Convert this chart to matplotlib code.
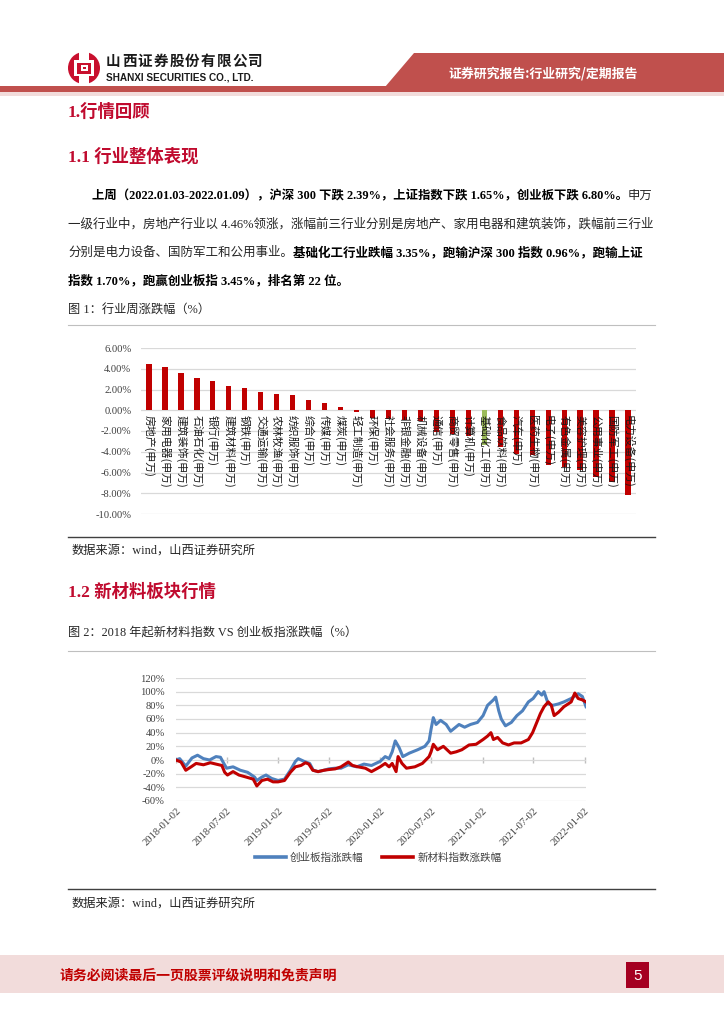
import matplotlib
matplotlib.use('Agg')
import matplotlib.pyplot as plt
import matplotlib.patches as mpatches
import matplotlib.transforms as mtransforms
from matplotlib.ticker import FuncFormatter
from matplotlib.lines import Line2D
import pandas as pd

plt.rcParams['font.family'] = ['Liberation Serif', 'Noto Sans CJK SC', 'DejaVu Sans']

# ---------------- data: figure 1 ----------------
industries = ['房地产', '家用电器', '建筑装饰', '石油石化', '银行', '建筑材料', '钢铁', '交通运输',
              '农林牧渔', '纺织服饰', '综合', '传媒', '煤炭', '轻工制造', '环保', '社会服务',
              '非银金融', '机械设备', '通信', '商贸零售', '计算机', '基础化工', '食品饮料', '汽车',
              '医药生物', '电子', '有色金属', '美容护理', '公用事业', '国防军工', '电力设备']
weekly_change = [4.46, 4.15, 3.55, 3.10, 2.85, 2.30, 2.10, 1.80,
                 1.55, 1.50, 0.95, 0.70, 0.30, -0.15, -0.70, -0.80,
                 -0.90, -1.00, -2.10, -2.30, -2.50, -3.35, -3.50, -4.20,
                 -4.30, -5.30, -5.50, -5.80, -6.40, -6.90, -8.20]
highlight = '基础化工'
bar_yticks = [6, 4, 2, 0, -2, -4, -6, -8, -10]

# ---------------- data: figure 2 ----------------
gem_dates = ['2018-01-02', '2018-01-15', '2018-02-06', '2018-02-28', '2018-03-20', '2018-04-10',
             '2018-05-02', '2018-05-25', '2018-06-10', '2018-06-22', '2018-07-02', '2018-07-25',
             '2018-08-20', '2018-09-15', '2018-10-10', '2018-10-18', '2018-11-05', '2018-11-20',
             '2018-12-10', '2019-01-02', '2019-01-25', '2019-02-15', '2019-03-05', '2019-03-15',
             '2019-04-05', '2019-04-25', '2019-05-08', '2019-05-25', '2019-06-15', '2019-07-02',
             '2019-07-25', '2019-08-15', '2019-09-10', '2019-10-10', '2019-11-05', '2019-12-02',
             '2020-01-02', '2020-01-20', '2020-02-03', '2020-02-14', '2020-02-25', '2020-03-10',
             '2020-03-23', '2020-04-15', '2020-05-15', '2020-06-10', '2020-06-25', '2020-07-02',
             '2020-07-10', '2020-07-20', '2020-08-05', '2020-08-25', '2020-09-10', '2020-10-10',
             '2020-10-30', '2020-11-20', '2020-12-15', '2021-01-04', '2021-01-20', '2021-02-10',
             '2021-02-18', '2021-03-01', '2021-03-10', '2021-03-25', '2021-04-15', '2021-05-05',
             '2021-05-25', '2021-06-15', '2021-07-02', '2021-07-20', '2021-08-02', '2021-08-10',
             '2021-08-25', '2021-09-10', '2021-09-30', '2021-10-20', '2021-11-15', '2021-12-10',
             '2021-12-25', '2022-01-07']
gem_values = [0, 2, -9, 3, 7, 2,
              0, 5, 4, -5, -12, -10,
              -15, -18, -25, -30, -25, -22,
              -27, -30, -28, -15, -2, 2,
              -2, -5, -15, -17, -15, -13,
              -12, -12, -7, -10, -6, -8,
              -2, 5, 2, 12, 28, 18,
              5, 10, 15, 20, 28, 45,
              62, 52, 58, 52, 42, 52,
              48, 52, 55, 65, 80, 88,
              92, 72, 60, 50, 55, 65,
              72, 85, 90, 100, 95, 100,
              82, 80, 82, 85, 90, 97,
              93, 78]

nm_dates = ['2018-01-02', '2018-01-20', '2018-02-06', '2018-02-25', '2018-03-15', '2018-04-10',
            '2018-05-05', '2018-05-25', '2018-06-15', '2018-06-25', '2018-07-05', '2018-07-25',
            '2018-08-15', '2018-09-10', '2018-10-05', '2018-10-18', '2018-11-05', '2018-11-25',
            '2018-12-15', '2019-01-02', '2019-01-25', '2019-02-15', '2019-03-05', '2019-03-25',
            '2019-04-10', '2019-04-22', '2019-05-06', '2019-05-25', '2019-06-15', '2019-07-02',
            '2019-07-25', '2019-08-15', '2019-09-10', '2019-09-25', '2019-10-15', '2019-11-10',
            '2019-12-02', '2020-01-02', '2020-01-20', '2020-02-03', '2020-02-14', '2020-02-28',
            '2020-03-06', '2020-03-20', '2020-04-05', '2020-05-05', '2020-06-01', '2020-06-25',
            '2020-07-02', '2020-07-10', '2020-07-25', '2020-08-15', '2020-09-10', '2020-09-30',
            '2020-10-20', '2020-11-15', '2020-12-10', '2021-01-04', '2021-01-20', '2021-02-01',
            '2021-02-10', '2021-02-25', '2021-03-15', '2021-04-05', '2021-04-25', '2021-05-20',
            '2021-06-15', '2021-06-30', '2021-07-15', '2021-07-28', '2021-08-10', '2021-08-25',
            '2021-09-05', '2021-09-15', '2021-10-01', '2021-10-20', '2021-11-15', '2021-11-28',
            '2021-12-10', '2021-12-25', '2022-01-07']
nm_values = [0, -3, -15, -10, -5, -7,
             -4, -6, -8, -18, -22, -17,
             -22, -25, -28, -38, -30, -28,
             -32, -32, -30, -18, -10, -8,
             -4, -6, -15, -17, -15, -14,
             -13, -10, -3, -8, -10, -12,
             -17, -10, -5, -10, -5, -17,
             5, -5, -12, -10, -5, 5,
             12, 23, 15, 20, 10, 12,
             15, 22, 23, 30, 35, 40,
             30, 33, 25, 22, 25, 25,
             30, 40, 55, 68, 78, 85,
             80, 65, 70, 78, 85, 98,
             90, 88, 85]
line_ticks = ['2018-01-02', '2018-07-02', '2019-01-02', '2019-07-02', '2020-01-02',
              '2020-07-02', '2021-01-02', '2021-07-02', '2022-01-02']
line_yticks = [120, 100, 80, 60, 40, 20, 0, -20, -40, -60]
series_names = ['创业板指涨跌幅', '新材料指数涨跌幅']

# ---------------- page ----------------
W, H = 724, 1024
fig = plt.figure(figsize=(7.24, 10.24), dpi=100)
bg = fig.add_axes([0, 0, 1, 1])
bg.set_xlim(0, W)
bg.set_ylim(H, 0)
bg.axis('off')

RED = '#C0504D'
TITLE_RED = '#C00A2E'
CJK = ['Noto Sans CJK SC', 'DejaVu Sans']
MIX = ['Liberation Serif', 'Noto Sans CJK SC', 'DejaVu Sans']


def box(x0, y0, x1, y1, color, **kw):
    bg.add_patch(mpatches.Rectangle((x0, y0), x1 - x0, y1 - y0, color=color, lw=0, **kw))


# header
bg.add_patch(mpatches.Polygon([(385, 87), (414, 53), (724, 53), (724, 87)], closed=True,
                              color=RED, lw=0))
box(0, 86, 724, 92, RED)
box(0, 92, 724, 96, '#F2DCDB')
# logo
bg.add_patch(mpatches.Circle((84, 68), 16, color='#C8102E', lw=0))
box(79, 52, 89, 84, 'white')
box(74, 60, 94, 76, 'white')
box(77, 62.5, 91, 73.5, '#C8102E')
box(80.5, 65, 87.5, 71, 'white')
box(82.5, 66.8, 85.5, 69.2, '#C8102E')
for i, ch in enumerate('山西证券股份有限公司'):
    bg.text(106 + i * 15.8, 61, ch, fontsize=10.5, fontweight='bold', family=CJK,
            color='#1a1a1a', ha='left', va='center')
bg.text(106, 77.5, 'SHANXI SECURITIES CO., LTD.', fontsize=7.2, fontweight='bold',
        family=['Liberation Sans'], color='#1a1a1a', ha='left', va='center')
bg.text(449, 73, '证券研究报告:行业研究/定期报告', fontsize=9.3, fontweight='bold',
        family=CJK, color='white', ha='left', va='center')

# titles
bg.text(68, 112, '1.行情回顾', fontsize=12.5, fontweight='bold', family=MIX,
        color=TITLE_RED, ha='left', va='center')
bg.text(68, 157, '1.1 行业整体表现', fontsize=12.5, fontweight='bold', family=MIX,
        color=TITLE_RED, ha='left', va='center')
bg.text(68, 592, '1.2 新材料板块行情', fontsize=12.5, fontweight='bold', family=MIX,
        color=TITLE_RED, ha='left', va='center')

renderer = fig.canvas.get_renderer()


def runs(x, y, parts, size=9.0):
    for txt, bold in parts:
        t = bg.text(x, y, txt, fontsize=size, fontweight='bold' if bold else 'normal',
                    family=MIX, color='#000000' if bold else '#262626',
                    ha='left', va='center')
        x += t.get_window_extent(renderer=renderer).width


runs(92, 196, [('上周（2022.01.03-2022.01.09），沪深 300 下跌 2.39%，上证指数下跌 1.65%，创业板下跌 6.80%。', True),
               ('申万', False)], size=8.9)
runs(68, 224, [('一级行业中，房地产行业以 4.46%领涨，涨幅前三行业分别是房地产、家用电器和建筑装饰，跌幅前三行业', False)])
runs(68, 253, [('分别是电力设备、国防军工和公用事业。', False),
               ('基础化工行业跌幅 3.35%，跑输沪深 300 指数 0.96%，跑输上证', True)])
runs(68, 281, [('指数 1.70%，跑赢创业板指 3.45%，排名第 22 位。', True)])

bg.text(68, 311, '图 1：行业周涨跌幅（%）', fontsize=8.8, family=MIX, color='#262626',
        ha='left', va='center')
bg.plot([68, 655], [325, 325], color='#BFBFBF', lw=0.8)
bg.plot([68, 655], [537, 537], color='#404040', lw=1.0)
bg.text(72, 551, '数据来源：wind，山西证券研究所', fontsize=8.8, family=MIX, color='#262626',
        ha='left', va='center')
bg.text(68, 633, '图 2：2018 年起新材料指数 VS 创业板指涨跌幅（%）', fontsize=8.8, family=MIX,
        color='#262626', ha='left', va='center')
bg.plot([68, 655], [651, 651], color='#BFBFBF', lw=0.8)
bg.plot([68, 655], [889, 889], color='#404040', lw=1.0)
bg.text(72, 904, '数据来源：wind，山西证券研究所', fontsize=8.8, family=MIX, color='#262626',
        ha='left', va='center')

# footer
box(0, 955, 724, 993, '#F2DCDB')
bg.text(60, 975, '请务必阅读最后一页股票评级说明和免责声明', fontsize=10, fontweight='bold',
        family=CJK, color='#C00000', ha='left', va='center')
box(626, 962, 649, 988, '#A50021')
bg.text(637.5, 975.5, '5', fontsize=11, family=['Liberation Sans'], color='white',
        ha='center', va='center')


def px_axes(left, top, right, bottom):
    return fig.add_axes([left / W, 1 - bottom / H, (right - left) / W, (bottom - top) / H])


# ---------------- figure 1: bars ----------------
ax1 = px_axes(141, 348, 636, 514)
ax1.set_facecolor('none')
colors = ['#9BBB59' if n == highlight else '#C00000' for n in industries]
xs = list(range(len(industries)))
ax1.bar(xs, weekly_change, width=0.33, color=colors, zorder=2)
ax1.set_xlim(-0.5, len(industries) - 0.5)
ax1.set_ylim(-10, 6)
ax1.set_yticks(bar_yticks)
ax1.yaxis.set_major_formatter(FuncFormatter(lambda v, p: f'{v:.2f}%'))
ax1.set_xticks([])
ax1.grid(axis='y', color='#D9D9D9', lw=0.9, zorder=0)
for s in ax1.spines.values():
    s.set_visible(False)
ax1.tick_params(axis='y', length=0, pad=7, labelsize=7.6, labelcolor='#404040')
for lab in ax1.get_yticklabels():
    lab.set_family(['Liberation Serif'])
lab_tr = mtransforms.offset_copy(ax1.transData, fig=fig, y=-5, units='dots')
for x, name in zip(xs, industries):
    ax1.text(x, 0, name + '(申万)', rotation=-90, ha='center', va='top', fontsize=7.8,
             family=CJK, color='#1a1a1a', transform=lab_tr, zorder=3)

# ---------------- figure 2: lines ----------------
ax2 = px_axes(176, 678, 586, 801)
ax2.set_facecolor('none')
gd = pd.to_datetime(gem_dates)
nd = pd.to_datetime(nm_dates)
ax2.plot(gd, gem_values, color='#4F81BD', lw=2.2, zorder=3, solid_joinstyle='round')
ax2.plot(nd, nm_values, color='#C00000', lw=2.2, zorder=4, solid_joinstyle='round')
ax2.set_xlim(pd.Timestamp('2018-01-02'), pd.Timestamp('2022-01-07'))
ax2.set_ylim(-60, 120)
ax2.set_yticks(line_yticks)
ax2.yaxis.set_major_formatter(FuncFormatter(lambda v, p: f'{v:.0f}%'))
tick_dates = pd.to_datetime(line_ticks)
ax2.set_xticks(tick_dates)
ax2.set_xticklabels(line_ticks, rotation=45, ha='right', rotation_mode='anchor')
ax2.grid(axis='y', color='#D9D9D9', lw=0.9, zorder=0)
ax2.plot(tick_dates, [0] * len(tick_dates), linestyle='none', marker='|', markersize=4,
         color='#BFBFBF', zorder=1)
for s in ax2.spines.values():
    s.set_visible(False)
ax2.tick_params(axis='y', length=0, pad=8, labelsize=7.6, labelcolor='#404040')
ax2.tick_params(axis='x', length=0, pad=4, labelsize=7.6, labelcolor='#404040')
for lab in ax2.get_yticklabels() + ax2.get_xticklabels():
    lab.set_family(['Liberation Serif'])

handles = [Line2D([], [], color='#4F81BD', lw=2.6), Line2D([], [], color='#C00000', lw=2.6)]
leg = fig.legend(handles, series_names, loc='center', bbox_to_anchor=(378 / W, 1 - 858 / H),
                 ncol=2, frameon=False, handlelength=2.9, columnspacing=1.8, handletextpad=0.4,
                 prop={'family': CJK, 'size': 7.6})
for t in leg.get_texts():
    t.set_color('#404040')

fig.savefig('out.png', dpi=100)
